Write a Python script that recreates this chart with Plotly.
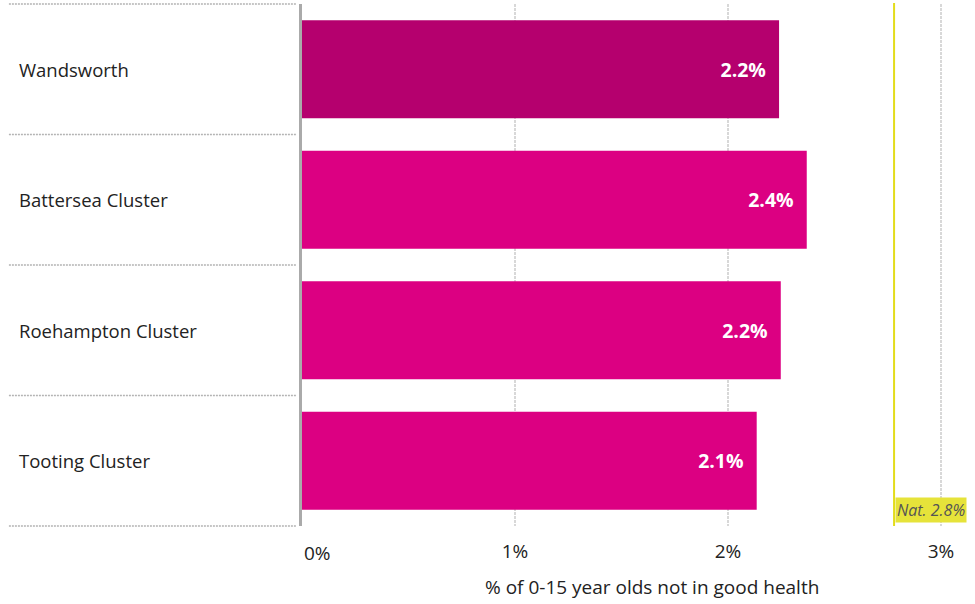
import plotly.graph_objects as go

categories = ["Wandsworth", "Battersea Cluster", "Roehampton Cluster", "Tooting Cluster"]
values = [2.24, 2.37, 2.248, 2.135]
bar_colors = ["#B5006E", "#DC0082", "#DC0082", "#DC0082"]
nat_value = 2.78
x_ticks = [1, 2, 3]
x_tick_labels = ["1%", "2%", "3%"]
x_title = "% of 0-15 year olds not in good health"

FONT = "Segoe UI, Open Sans, sans-serif"
TXT = "#222222"

fig = go.Figure()
fig.add_trace(go.Bar(
    y=categories, x=values, orientation="h",
    marker=dict(color=bar_colors, line=dict(width=0)),
    texttemplate="%{x:.1f}%&nbsp;&nbsp;", textposition="inside", insidetextanchor="end",
    textfont=dict(color="white", size=19.5, family=FONT, weight="bold"),
    hoverinfo="skip",
))

# National reference line
fig.add_shape(type="line", xref="x", yref="paper", x0=nat_value, x1=nat_value,
              y0=0, y1=1.002, line=dict(color="#E3DC1B", width=2))
fig.add_annotation(xref="x", yref="paper", x=nat_value, y=0.005,
                   xanchor="left", yanchor="bottom", xshift=1,
                   text=f"<i>Nat. {nat_value:.1f}%</i>", showarrow=False,
                   bgcolor="#E6E33A", font=dict(color="#555555", size=16, family=FONT),
                   borderpad=1)

# category labels and dotted separators on the left
for c in categories:
    fig.add_annotation(xref="paper", yref="y", x=-0.4235, y=c, xanchor="left",
                       text=c, showarrow=False, font=dict(size=18.5, color=TXT, family=FONT))
for k in range(len(categories) + 1):
    yy = k / len(categories)
    fig.add_shape(type="line", xref="paper", yref="paper", x0=-0.4355, x1=-0.0075,
                  y0=yy, y1=yy, line=dict(color="#B4B4B4", width=1.5, dash="2px,1px"))

fig.add_annotation(xref="x", yref="paper", x=0, y=-0.052, xanchor="left", yanchor="middle",
                   text="0%", showarrow=False, font=dict(size=19, color=TXT, family=FONT))
fig.add_annotation(xref="paper", yref="paper", x=0.52, y=-0.117, xanchor="center", yanchor="middle",
                   text=x_title, showarrow=False, font=dict(size=19, color=TXT, family=FONT))

fig.update_layout(
    width=975, height=604,
    margin=dict(l=302, r=0, t=4, b=78),
    plot_bgcolor="white", paper_bgcolor="white",
    showlegend=False, bargap=0.25,
    font=dict(family=FONT, size=19, color=TXT),
    xaxis=dict(range=[0, 3.16], tickvals=x_ticks, ticktext=x_tick_labels,
               showgrid=True, gridcolor="#D8D8D8", griddash="3px,1px", gridwidth=2,
               zeroline=False, showline=False, ticks="", ticklabelstandoff=12,
               tickfont=dict(size=19, color=TXT, family=FONT)),
    yaxis=dict(categoryorder="array", categoryarray=categories, autorange="reversed",
               showticklabels=False, showgrid=False, zeroline=False,
               showline=True, linecolor="#AAAAAA", linewidth=3, ticks=""),
)

fig.write_html("out.html", config={"displayModeBar": False})
with open("out.html", "r", encoding="utf-8") as f:
    html = f.read()
html = html.replace("<head>", "<head><style>html,body{margin:0;padding:0;overflow:hidden;}</style>", 1)
with open("out.html", "w", encoding="utf-8") as f:
    f.write(html)
